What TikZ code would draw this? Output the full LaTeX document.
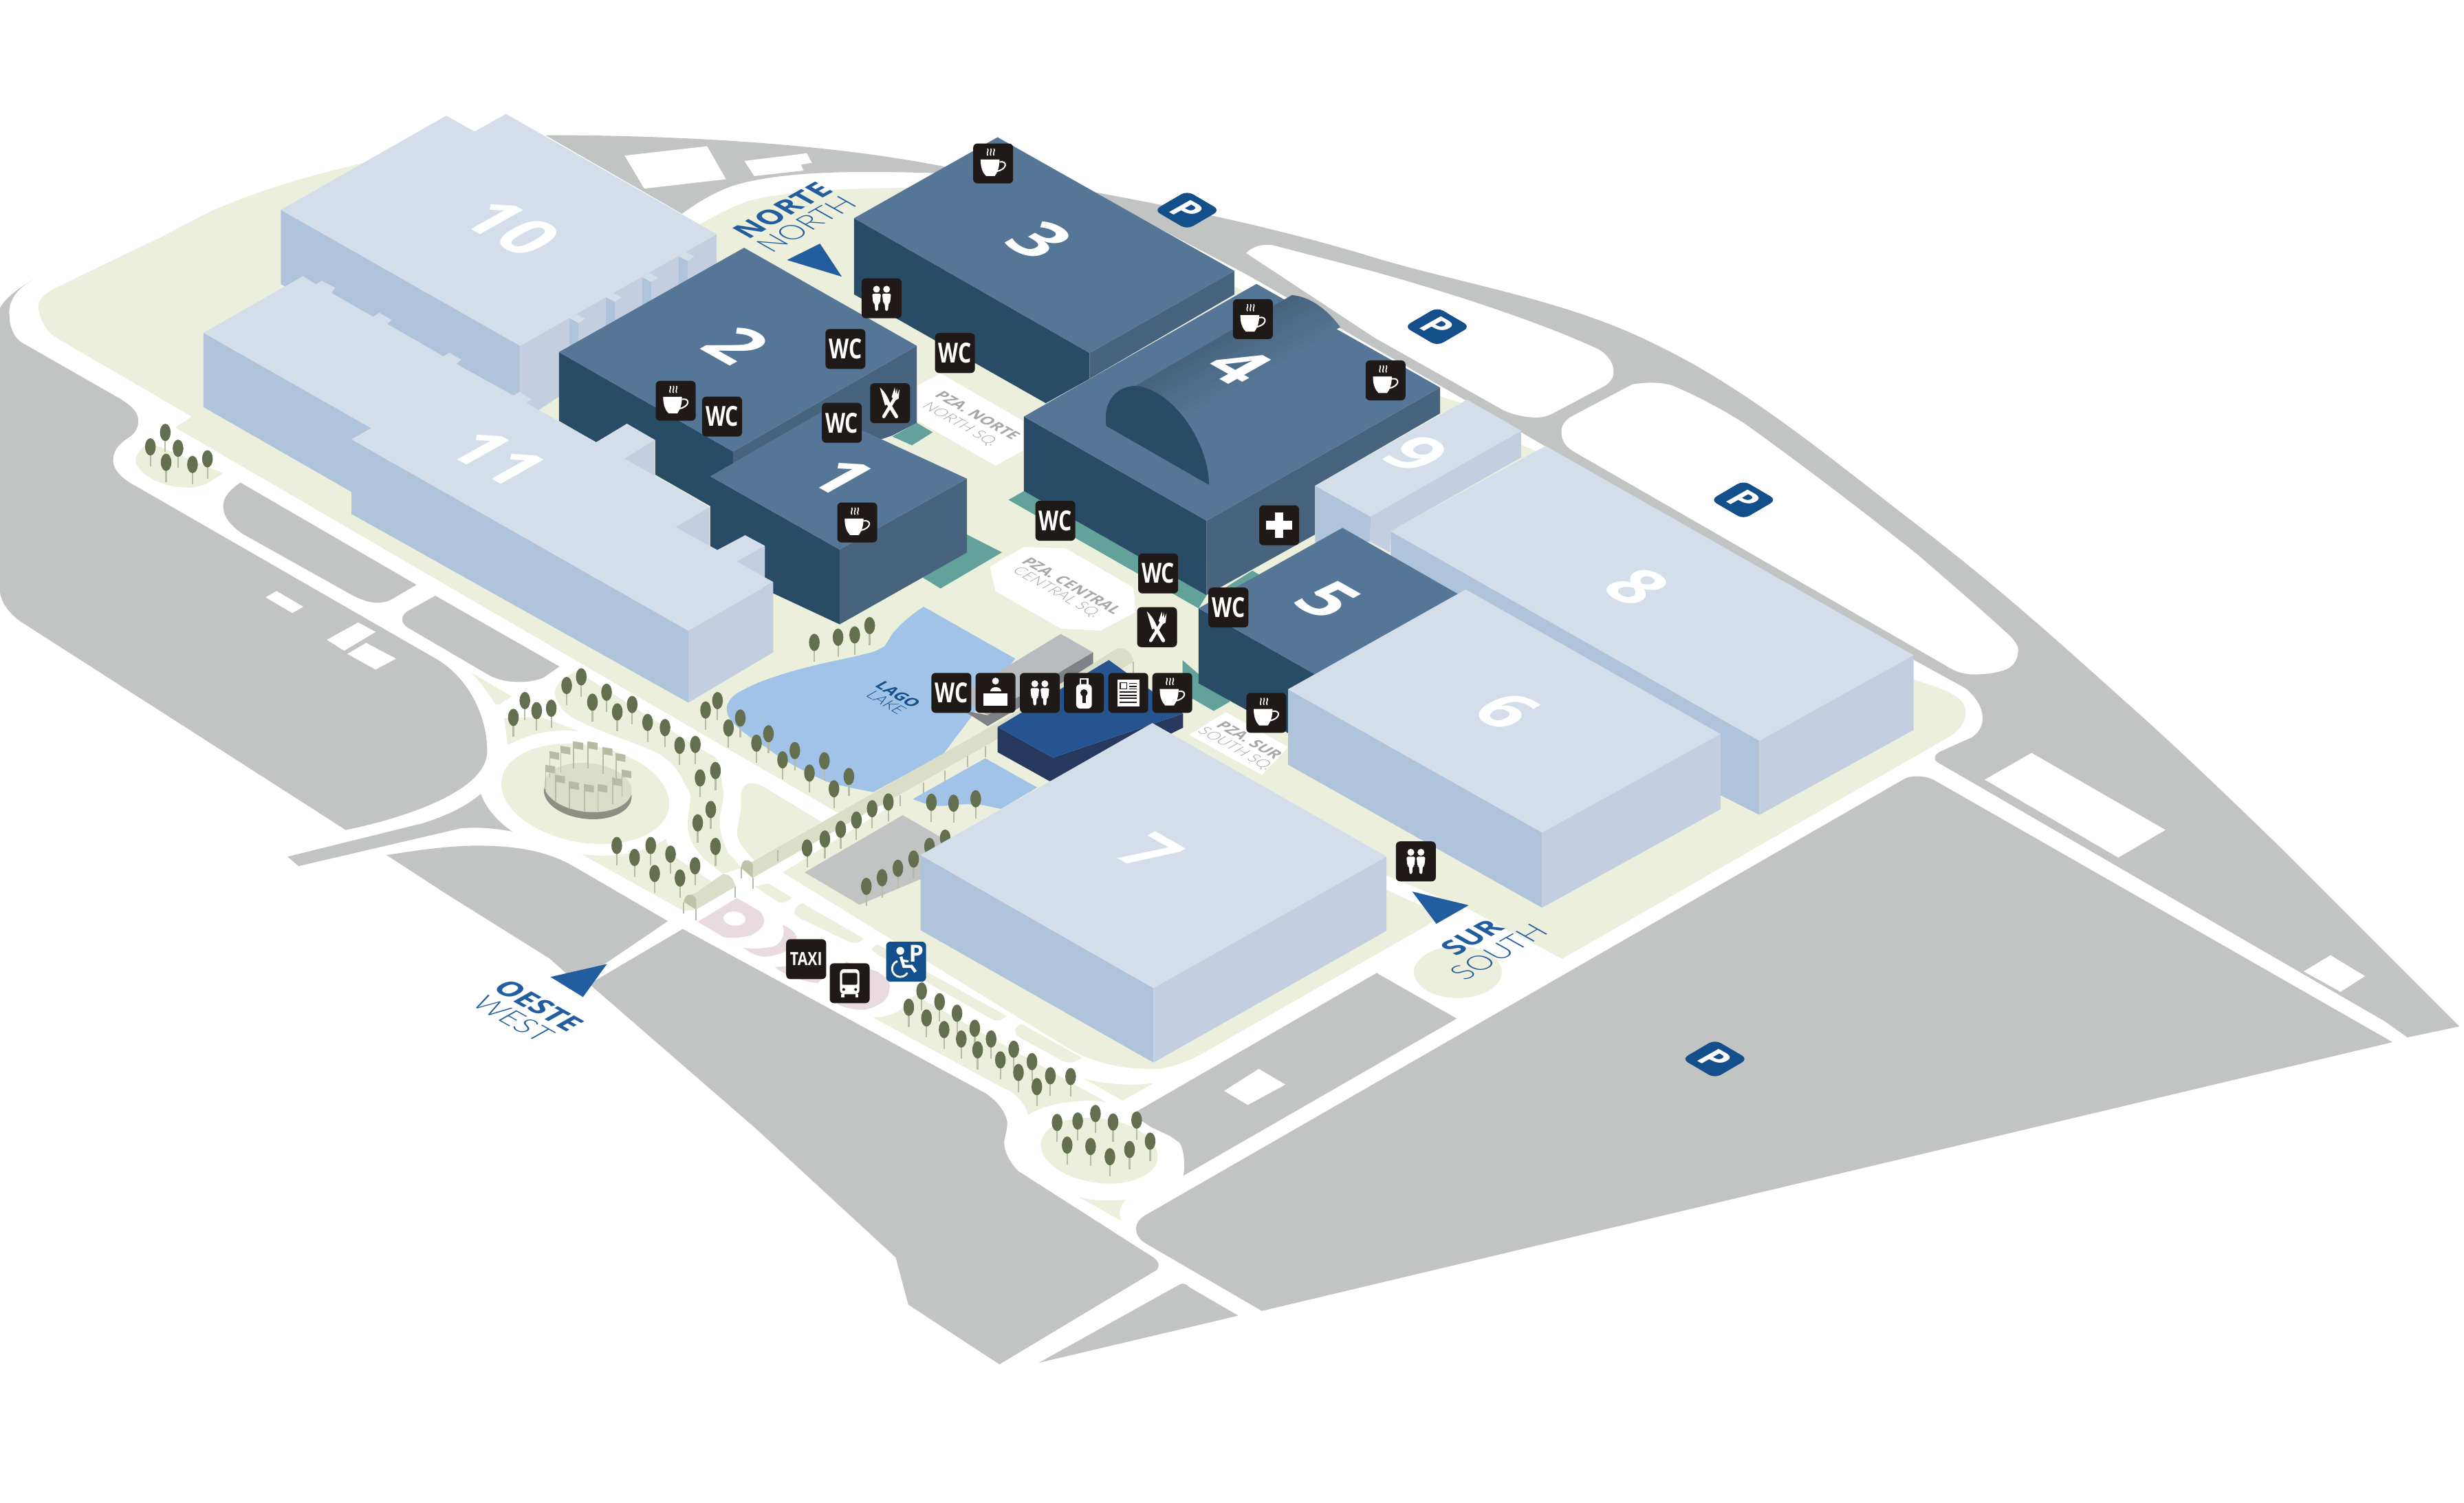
\documentclass[tikz,border=0pt]{standalone}
\usepackage{fontspec}
\setmainfont{Open Sans}
\newfontfamily\thinfont{Lato Light}
\usepackage{xcolor}
\usepackage{tikz}
\usetikzlibrary{calc}
\definecolor{roadgray}{HTML}{C2C4C3}
\definecolor{sitegreen}{HTML}{ECEFDC}
\definecolor{ltop}{HTML}{D4DEEA}
\definecolor{lleft}{HTML}{AFC4DB}
\definecolor{lright}{HTML}{C3CFE1}
\definecolor{dtop}{HTML}{557696}
\definecolor{dleft}{HTML}{284C66}
\definecolor{dright}{HTML}{47637E}
\definecolor{tealband}{HTML}{62A29A}
\definecolor{lakeblue}{HTML}{A0C3E7}
\definecolor{pinkzone}{HTML}{E8DADE}
\definecolor{arrowblue}{HTML}{225E9F}
\definecolor{parkblue}{HTML}{134F8A}
\definecolor{treecrown}{HTML}{636F4E}
\definecolor{treestem}{HTML}{B6BCA8}
\definecolor{iconblack}{HTML}{1F1A17}
\definecolor{arcadecolor}{HTML}{DADDC8}
\definecolor{arcadeend}{HTML}{BEC2A8}
\definecolor{labelgray}{HTML}{A5A7A8}
\definecolor{terminaltop}{HTML}{B8BCBE}
\definecolor{terminalface}{HTML}{7E8185}
\definecolor{audtop}{HTML}{265490}
\definecolor{audface}{HTML}{28395F}
\definecolor{flagcolor}{HTML}{B5BBA5}
\tikzset{
  isodown/.style={cm={0.87,-0.49,0.87,0.49,(0,0)}},
  isoup/.style={cm={0.87,0.49,-0.87,0.49,(0,0)}},
  bldnum/.style={isodown,white,font=\fontsize{25}{25}\selectfont\bfseries},
  boldblue/.style={arrowblue,font=\fontsize{10.5}{10.5}\selectfont\bfseries},
  thinblue/.style={arrowblue,font=\fontsize{10.5}{10.5}\selectfont\thinfont},
  sqbold/.style={isodown,labelgray,font=\fontsize{5.6}{5.6}\selectfont\bfseries},
  sqthin/.style={isodown,labelgray,font=\fontsize{5.6}{5.6}\selectfont\thinfont},
  iconbase/.pic={\fill[iconblack,rounded corners=1.5] (-12.7,-12.7) rectangle (12.7,12.7);},
  wcicon/.pic={\pic {iconbase};
    \node[white,xscale=.75,font=\fontsize{10}{10}\selectfont\bfseries] (wctext) at (0,0) {WC};},
  cupicon/.pic={\pic {iconbase};
    \fill[white] (-8,-2.5) -- (4,-2.5) .. controls (4,3) and (2.5,6) .. (1,8) -- (-4.5,8) .. controls (-6.5,6) and (-8,3) .. cycle;
    \draw[white,line width=.5pt] (4,-1) .. controls (9.5,-2) and (9,4) .. (2,5);
    \foreach \s in {-3.5,-1.5,.5}
      \draw[white,line width=.4pt] (\s,-9.5) .. controls (\s+1,-8) and (\s-1,-7) .. (\s,-5);},
  forkicon/.pic={\pic {iconbase};
    \fill[white] (-6.5,-10) .. controls (-3,-7) and (-1,-3) .. (0,0) -- (-3.2,1.5) -- cycle;
    \draw[white,line width=1.3pt,line cap=round] (-1.5,-.5) -- (4,8.5);
    \draw[white,line width=1.2pt,line cap=round] (-4,8.5) -- (3,-3);
    \fill[white] (1,-4) -- (3,-10) -- (3.5,-6) -- (4.4,-9.5) -- (4.6,-5.5) -- (6,-9) -- (5.5,-3) -- (3,-1.5) -- cycle;},
  peopleicon/.pic={\pic {iconbase};
    \foreach \s in {-3.2,3.2} {
      \fill[white] (\s,-5.8) circle (2.2);
      \fill[white,rounded corners=.6] (\s-2.8,-3) -- (\s+2.8,-3) -- (\s+2.2,3) -- (\s+1.2,3) -- (\s+.9,8) -- (\s-.9,8) -- (\s-1.2,3) -- (\s-2.2,3) -- cycle;}},
  deskicon/.pic={\pic {iconbase};
    \fill[white] (0,-7.5) circle (2.2);
    \fill[white] (-3.5,-.8) .. controls (-3.5,-4.5) and (3.5,-4.5) .. (3.5,-.8) -- cycle;
    \fill[white] (-7.5,.4) rectangle (7.5,8);},
  lockericon/.pic={\pic {iconbase};
    \fill[white,rounded corners=1.5] (-5,-5.5) rectangle (5,10);
    \draw[white,line width=.6pt] (-2.2,-5.5) -- (-2.2,-9) -- (2.2,-9) -- (2.2,-5.5);
    \fill[iconblack] (0,0) circle (2.3);
    \fill[iconblack] (-1,0) -- (1,0) -- (1,6.5) -- (-1,6.5) -- cycle;},
  newsicon/.pic={\pic {iconbase};
    \fill[white] (-7,-8.5) rectangle (7,8.5);
    \draw[iconblack,line width=.4pt] (-5,-6.5) rectangle (-1,-2.5);
    \foreach \s in {-6,-4,-2.5} \draw[iconblack,line width=.4pt] (.5,\s) -- (5.5,\s);
    \foreach \s in {-.5,1.5,3.5,6} \draw[iconblack,line width=.4pt] (-5.5,\s) -- (5.5,\s);},
  crossicon/.pic={\pic {iconbase};
    \fill[white] (-8.2,-2.8) rectangle (8.2,2.8);
    \fill[white] (-2.8,-8.2) rectangle (2.8,8.2);},
  taxiicon/.pic={\pic {iconbase};
    \node[white,xscale=.8,font=\fontsize{6.6}{6.6}\selectfont\bfseries] (taxitext) at (0,0) {TAXI};},
  busicon/.pic={\pic {iconbase};
    \fill[white,rounded corners=1.5] (-6.2,-9) rectangle (6.2,7);
    \fill[white] (-5.5,7) rectangle (-3.5,9); \fill[white] (3.5,7) rectangle (5.5,9);
    \fill[iconblack,rounded corners=.5] (-4.8,-6.5) rectangle (4.8,1);
    \fill[iconblack] (-3.8,4) circle (.9); \fill[iconblack] (3.8,4) circle (.9);},
  wheelicon/.pic={\fill[parkblue,rounded corners=1.5] (-12.7,-12.7) rectangle (12.7,12.7);
    \fill[white] (-3.7,-6.9) circle (2.5);
    \draw[white,line width=.7pt] (-5.48,-.39) arc (250:30:5.2);
    \draw[white,line width=1.1pt] (-3.3,-3.2) -- (-1.4,3) -- (3.5,3) -- (6,6.5);
    \draw[white,line width=.8pt] (-3,-.8) -- (1.5,-.2);
    \node[white,font=\fontsize{8.5}{8.5}\selectfont\bfseries] (wheelp) at (6.5,-5) {P};},
  parkmark/.pic={\fill[parkblue,rounded corners=2.5] (-21,0) -- (0,-12.3) -- (21,0) -- (0,12.3) -- cycle;
    \node[isodown,white,font=\fontsize{12.5}{12.5}\selectfont\bfseries] (parkp) at (0,0) {P};},
  treemark/.pic={\draw[treestem,line width=.55pt] (0,0) -- (0,12.5);
    \fill[treecrown] (0,0) ellipse (3.4 and 5.5);}
}
\begin{document}
\begin{tikzpicture}[x=0.02cm,y=-0.02cm]
\useasboundingbox (0,0) rectangle (1568,955.8);
%% site
\fill[sitegreen] (33.5,184) .. controls (26,189) and (24,192) .. (24.5,196.5) .. controls (26,205) and (30,211) .. (36,215) -- (122,265) -- (111.6,272) -- (533,517) -- (565,512) -- (498,555) -- (680,667) .. controls (700,678) and (716,680) .. (734,680) .. controls (745,680) and (757,675) .. (769,668) -- (906,590) .. controls (911,587) and (914,584) .. (917,582) -- (882,566) -- (882,557) -- (934,578) -- (994,610) -- (1240,469) .. controls (1252,462) and (1254,450) .. (1246,444) .. controls (1238,438) and (1228,436) .. (1217,432) -- (985,290) -- (968,283) -- (968,290) -- (935,258) -- (916,252) -- (900,248) -- (800,190) -- (700,135) -- (620,118) -- (568,119.6) .. controls (530,120) and (500,122) .. (475.7,128) .. controls (465,132) and (455,137) .. (445,143) -- (400,120) -- (230,104) .. controls (200,111) and (175,118) .. (150,128) .. controls (130,135) and (115,145) .. (98,153) -- cycle;
%% roads and car parks
\fill[roadgray] (21,178) .. controls (10,184) and (5,192) .. (6,201) .. controls (6,208) and (9,215) .. (14,218) -- (77,254) .. controls (85,259) and (88,263) .. (88,268) .. controls (88,274) and (84,277) .. (81,279) .. controls (75,283) and (72,287) .. (72,293) .. controls (72,300) and (80,306) .. (86,309) -- (279,420) .. controls (298,432) and (310,455) .. (310,478) .. controls (310,505) and (250,522) .. (220,528) -- (14,396) .. controls (6,391) and (0,382) .. (0,376) -- (0,196) .. controls (3,190) and (12,183) .. cycle;
\fill[roadgray] (153,307) -- (265,372) -- (248,382) .. controls (240,385) and (232,383) .. (223,378) -- (155,340) .. controls (146,334) and (142,328) .. (142,322) .. controls (142,316) and (147,311) .. cycle;
\fill[roadgray] (277,379) -- (356,424) -- (346,431) .. controls (337,435) and (322,435) .. (312,430) -- (259,399) .. controls (255,396) and (255,392) .. (259,389) -- cycle;
\fill[roadgray] (306,505) .. controls (309,514) and (317,523) .. (326,529) .. controls (315,527) and (305,526) .. (293,527) -- (190,551) -- (183,545) -- (268,524) .. controls (285,519) and (298,512) .. cycle;
\fill[roadgray] (246,544) .. controls (265,541) and (285,538) .. (304,538) .. controls (330,538) and (348,542) .. (363,550) -- (425,586) -- (372,622) -- (360,619) -- (350,610) -- (284.5,569) -- cycle;
\fill[roadgray] (434.5,591) -- (628,696) .. controls (636,702) and (640,708) .. (641,714) .. controls (641,720) and (639,724) .. (639,727) .. controls (639,733) and (643,740) .. (648,745) -- (734,800) .. controls (738,803) and (738,806) .. (736,808) -- (636,868) -- (578,830) -- (570,800) -- (481,718) -- (375,626) -- cycle;
\fill[roadgray] (751,817) .. controls (753,816) and (755,817) .. (757,819) -- (788,837) -- (661,867) -- cycle;
\fill[roadgray] (876,619) -- (927,648) -- (753,748) .. controls (755,738) and (752,726) .. (749,726) .. controls (745,722) and (738,720) .. (732.5,717) -- (720,709) -- cycle;
\fill[roadgray] (1211,496) .. controls (1215,493) and (1226,493) .. (1232,497) -- (1522.5,663) -- (803,834) -- (729,791) .. controls (722,787) and (720,778) .. (729,773) -- cycle;
\fill[roadgray] (347,86) .. controls (420,86) and (520,90) .. (601,106) .. controls (700,122) and (790,138) .. (875,164) .. controls (932,181) and (997,191) .. (1052,218.4) .. controls (1112,247) and (1164,291) .. (1220,334) .. controls (1276,377) and (1314,412) .. (1361,454) .. controls (1391,481) and (1420,509) .. (1450,538) -- (1565,653) -- (1532,660) -- (1518,650) -- (1233,485) .. controls (1230,483) and (1231,480) .. (1235,478) -- (1255,469) .. controls (1264,463) and (1265,450) .. (1251,438) -- (1217.7,419.7) -- (968,275) -- (794,175) -- (741,147) -- (699,124) .. controls (660,116) and (625,110) .. (593,110) .. controls (550,109) and (500,108) .. (467,118) .. controls (455,122) and (445,128) .. (434,136) -- cycle;
%% parking pads, white on the gray
\fill[white] (793,161) .. controls (797,157) and (803,155) .. (810,156) -- (875,173) .. controls (925,187) and (980,205) .. (1016.7,222) .. controls (1024,226) and (1027,232) .. (1026.8,236.5) .. controls (1027,240) and (1025,243) .. (1021,245.6) -- (990,262) .. controls (985,265) and (980,266) .. (975,265.5) .. controls (968,265) and (960,263) .. (955,260) -- (875,215) -- cycle;
\fill[white] (993.7,276) .. controls (993,271) and (996,268) .. (999,265.5) -- (1038.8,244.5) .. controls (1048,243) and (1058,243) .. (1065,245.6) .. controls (1080,252) and (1095,260) .. (1109.5,269) .. controls (1150,298) and (1185,325) .. (1220,352.6) .. controls (1240,370) and (1260,387) .. (1279.5,405) .. controls (1284,410) and (1285,413) .. (1284,416) .. controls (1283,423) and (1278,426) .. (1273,427) .. controls (1266,429) and (1260,429) .. (1255,429) .. controls (1248,429) and (1242,426) .. (1237.5,423) -- (1001,287) .. controls (996,284) and (994,280) .. cycle;
\fill[white] (1263,496) -- (1292.8,479) -- (1378,528) -- (1348,545.6) -- cycle;
\fill[white] (1466,618) -- (1483,607.7) -- (1505,621) -- (1489.4,631) -- cycle;
\fill[white] (397.5,99) -- (450,93) -- (462,114) -- (410,120) -- cycle;
\fill[white] (473.7,102.4) -- (513.4,97.5) -- (516.7,103.6) -- (509.7,104.7) -- (511.4,108.5) -- (480,112) -- cycle;
\fill[white] (169,380) -- (176,376) -- (193,386) -- (186,390) -- cycle;
\fill[white] (208,407) -- (228,396) -- (239,402) -- (219,414) -- cycle;
\fill[white] (221,416) -- (233,409) -- (252,419) -- (239,426) -- cycle;
\fill[white] (801,680) -- (818,690) -- (794,703) -- (779,694) -- cycle;
%% green islands
\fill[sitegreen] (86,292.7) .. controls (87,288) and (91,284) .. (95,281.5) -- (142,301) -- (131,308) .. controls (125,310) and (121,310.5) .. (117,310) .. controls (105,310) and (88,303) .. cycle;
\fill[sitegreen] (300,428) -- (325.6,443) -- (318,448) .. controls (316,449) and (315,448) .. (314,446) .. controls (310,440) and (305,433) .. cycle;
\fill[sitegreen] (321,457) -- (323,474) .. controls (340,465) and (355,464) .. (368,465) -- (351.5,458.7) -- (343,456) -- cycle;
\fill[sitegreen,rotate around={-10:(372.4,505)}] (372.4,505) ellipse (54 and 31);
\fill[sitegreen] (367,427) .. controls (358,431) and (353,436) .. (353,441) .. controls (354,447) and (358,452) .. (362,455) .. controls (380,466) and (405,472) .. (420,480) .. controls (428,485) and (433,492) .. (435,497.5) .. controls (438,502) and (439.5,505) .. (439.5,507) .. controls (439,515) and (437,522) .. (437.7,527) .. controls (439,536) and (443,541) .. (448,546.3) -- (460,556) -- (472,552) -- (463,542) .. controls (459,533) and (458,528) .. (458,521) .. controls (459,513) and (461,508) .. (460.3,503.3) .. controls (459,495) and (458,487) .. (455.4,481.8) -- (445,476) -- cycle;
\fill[sitegreen] (370,543.4) .. controls (390,546) and (410,543) .. (424,533.6) .. controls (425,538) and (426,541) .. (427.7,544) -- (453,561) -- (468,564) -- (443,578.6) -- (435,579.5) -- cycle;
\fill[sitegreen] (475,499) .. controls (478,497.5) and (482,498.5) .. (485,500) -- (523,523) -- (480,547.3) .. controls (475,542) and (470,537) .. (469,530.7) .. controls (469,524) and (472,517) .. (471.6,511) .. controls (471,505) and (472,501) .. cycle;
\fill[sitegreen] (480.4,564) -- (489,562) -- (504,571) .. controls (501,574) and (498,575) .. (495.5,574) -- cycle;
\fill[sitegreen] (510.6,574.6) -- (549.5,597) .. controls (547,600) and (544,600.5) .. (541,599.5) -- (509.3,584.4) .. controls (506,582) and (505,581) .. (505.6,579.5) .. controls (506,577) and (508,576) .. cycle;
\fill[sitegreen] (558.6,601) -- (640.7,646.4) .. controls (637,649) and (635,650) .. (632,648.8) -- (558,607) .. controls (553,604) and (555,602) .. cycle;
\fill[sitegreen] (649.8,651.3) -- (688.5,672.9) .. controls (684,676) and (680,676.5) .. (676.8,675.3) -- (649,660) .. controls (644,657) and (646,653) .. cycle;
\fill[sitegreen] (555.6,647.4) .. controls (565,647) and (575,644) .. (582,633) -- (704,701.2) .. controls (697,700) and (690,700) .. (682.7,700.8) .. controls (672,702) and (663,704) .. (654.3,709.2) .. controls (652,702) and (648,698) .. (643.6,694.5) -- (637.7,691.8) -- cycle;
\fill[sitegreen] (689.5,686.2) .. controls (705,690) and (720,691) .. (734.4,689) -- (714.3,700.1) -- cycle;
\fill[sitegreen,rotate around={-8:(699.5,732)}] (699.5,732) ellipse (37.5 and 20.5);
\fill[sitegreen] (686.6,761.5) .. controls (695,764) and (705,764) .. (716.9,763.2) .. controls (713,766) and (711,772) .. (714,777) -- cycle;
\fill[sitegreen] (927.7,618.5) ellipse (28 and 16.5);
%% bus stops
\fill[pinkzone] (444,586.4) -- (469,571.3) -- (483,579.5) .. controls (488,584) and (488,590) .. (478,595) .. controls (470,597) and (464,597) .. (460,596) -- cycle;
\fill[white,rotate around={-5:(467.4,584.4)}] (467.4,584.4) ellipse (7 and 4.5);
\fill[pinkzone] (498,588.3) .. controls (504,591) and (507,594) .. (507,597) .. controls (507,601) and (504,604) .. (500.5,605) .. controls (494,608) and (488,609) .. (485.5,608.5) .. controls (480,608) and (476,605) .. (473,603) .. controls (482,604) and (488,603) .. (493,602) .. controls (498,599) and (500,594) .. cycle;
\fill[pinkzone] (493,615) -- (520.6,614.7) -- (525,620) -- (520.6,625.5) -- (514,624.5) .. controls (505,622) and (497,619) .. cycle;
\fill[pinkzone] (538,611.8) -- (558,618) .. controls (565,622) and (567,626) .. (566,628.4) .. controls (566,633) and (564,636) .. (561,638) .. controls (556,641) and (552,642.5) .. (548,642.5) .. controls (542,642) and (537,641) .. (533,639) -- cycle;
%% teal bands
\fill[tealband] (567.8,277.7) -- (583.4,269) -- (593.5,275) -- (580.4,283.3) -- cycle;
\fill[tealband] (615.2,340) -- (637.6,351.4) -- (598.5,374.4) -- (587.3,367.5) -- cycle;
\fill[tealband] (641.8,318) -- (651.6,312.4) -- (767.9,378.6) -- (762.7,387) -- cycle;
\fill[tealband] (752.5,420) -- (782.8,446.3) -- (772.3,452.3) -- (752.5,440.7) -- cycle;
\fill[tealband] (770,380) -- (797,363) -- (802,366) -- (775,383) -- cycle;
%% squares
\fill[white] (598.5,237.5) -- (651,267.7) -- (651,286.7) -- (633.4,296.3) -- (584,267.7) -- (584,245) -- cycle;
\fill[white] (651.5,348) -- (678,348.8) -- (721.3,373.8) -- (722.7,389.4) -- (700.4,401.2) -- (675.2,399.9) -- (633.4,376) -- (630,360.4) -- cycle;
\fill[white] (780,453) -- (819.7,475.3) -- (803,493) -- (756.7,467.5) -- cycle;
%% lake
\fill[lakeblue] (587.8,386) -- (646,419) -- (600,480) -- (555.7,503.9) .. controls (545,502) and (535,500) .. (525.5,497) .. controls (510,490) and (497,483) .. (487.8,475.6) .. controls (478,470) and (470,464) .. (465,458) .. controls (461,453) and (461,446) .. (470,440.4) .. controls (480,435) and (488,432) .. (492.9,430.6) .. controls (515,423) and (535,420) .. (550.6,416) .. controls (556,415) and (560,413) .. (563,411) .. controls (565,408) and (566,406) .. (568,403) .. controls (574,396) and (580,391) .. cycle;
\fill[lakeblue] (627,482.4) -- (660,501) -- (637,514.6) -- (626,512.3) .. controls (615,511) and (608,512) .. (600.9,512.7) .. controls (595,513) and (591,512) .. (588,511) -- (580.8,508.4) -- cycle;
\fill[roadgray] (574.5,518.6) -- (620,545) -- (547,575.6) -- (512,555) -- cycle;
%% terminal and arcades
\fill[terminaltop] (675,403.3) -- (695.6,415) -- (628.5,455) -- (610,443) -- cycle;
\fill[terminalface] (695.6,415) -- (695.6,422.8) -- (628.5,461.9) -- (613,452) -- (628.5,455) -- cycle;
\fill[arcadecolor] (471.6,552) .. controls (474,549) and (476,549) .. (479,548) -- (648.6,452) -- (710,413) .. controls (715,411) and (720,414) .. (721.4,421) -- (479,558.6) -- cycle;
\fill[arcadeend] (471.6,552) .. controls (472,546) and (477,546) .. (479,550) -- (479,558.6) -- cycle;
\fill[arcadecolor] (435,573.7) .. controls (437,570) and (440,569) .. (443,568) -- (460,556) .. controls (464,556) and (467,559) .. (468,564) -- (443,578.6) -- cycle;
\fill[arcadeend] (435,573.7) .. controls (436,568) and (441,568) .. (443,572) -- (443,578.6) -- cycle;
\foreach \x/\y in {572.7/506,587.6/498,601.2/490,615.8/481,627.2/475,721.4/421,471.6/552,479/558.6,435/574,443/578.6,468/564,495/541}
  \draw[treestem,line width=.5pt] (\x,\y) -- (\x,\y+7);
\fill[white] (479,558.6) -- (498,555) -- (565,514) -- (555,515) -- cycle;
%% auditorium
\fill[audface] (634.8,462.5) -- (634.8,478.5) -- (668,497) -- (745,466.8) -- (752.9,462.9) -- (752.9,454) -- (670,482) -- cycle;
\fill[audtop] (705.6,419.9) -- (752.9,454) -- (670,482) -- (634.8,462.5) -- cycle;
%% monument
\fill[black!40!sitegreen,rotate around={-6:(374,505)}] (374,505) ellipse (28 and 16);
\fill[arcadecolor,rotate around={-6:(374,502)}] (374,501) ellipse (28 and 15.5);
\foreach \x/\y in {352.8/480.9,359.9/477.5,368.1/474.6,377.2/474.6,386.7/478.3,395/482.2,398.8/492.6,350.3/489.6,356.6/495.9,365.4/500,374.9/501.8,383.5/501.8,392.8/497.7} {
  \draw[treestem,line width=.4pt] (\x-3,\y-3) -- (\x-3,\y+14);
  \fill[flagcolor] (\x-3,\y-3) -- (\x+3,\y-2) -- (\x+3,\y+2.5) -- (\x-3,\y+1.5) -- cycle;}
%% trees
\foreach \x/\y in {326.7/456.4,334/445.7,341.5/452.1,350.8/450.6,360.6/436.1,369.9/430.6,377/446.7,386/440.4,392.8/452.9,402.3/448.2,412.1/459.6,423.2/462.9,432.5/474.2,442.5/473.6,445.5/494.9,455.3/490.2,452.3/515,444/523.5,455.3/538.5,392.5/537.9,403.8/545.5,414.1/537.9,426.7/543.4,416.6/555.7,432.7/558.6,442.3/550.8,449/451.7,456.6/445.7,463.6/463.1,471.1/456.8,481.4/472.8,489/466.8,498/483.4,505.8/477.5,515.1/491.8,524.6/484,530.7/501.8,540.2/494,513.6/539.5,524.9/533.8,535/527.6,545/521.7,555/514.5,565.3/510.2,592.7/510.4,606.8/511,620.9/508.2,551.3/563.9,561.3/558.4,571.4/552.4,581.4/546.5,591.5/538.5,601.5/533.2,518.2/408.7,533.3/405.4,543.9/403.9,553.4/398,105.2/275.1,95.7/284.3,113.3/285.2,105.7/294.1,122.5/295.5,132/291.9,586.5/630.5,578.3/640.8,597.9/637.3,589.6/647.6,609/644.6,600.8/655,620.3/654.2,611.7/661,630.7/661,622.1/667.9,645.1/667.5,636.6/674.3,656.7/675.4,648.1/682.3,668.4/684.4,659.8/691.3,681.3/684.9,672.7/714.1,685.8/713.2,697.1/708.4,708.3/713.8,723.3/712.6,731.9/726,718.8/731.3,706.3/735.9,694/729.4,679.1/728.5}
  \pic at (\x,\y) {treemark};
%% hall 10
\fill[lleft] (178.7,133.5) -- (331,220) -- (331,262) -- (178.7,180.8) -- cycle;
\fill[lright] (331,220) -- (456,149) -- (456,185) -- (343,260.8) -- (331,262) -- cycle;
\fill[ltop] (284,73.6) -- (302,83.7) -- (322,72.5) -- (456,149) -- (331,220) -- (178.7,133.5) -- cycle;
\foreach \x/\y in {362.4/202.5,385.6/189,408.7/176.4,431.9/163} {
  \fill[lleft] (\x,\y) -- (\x+5.7,\y+3) -- (\x+5.7,\y+35) -- (\x,\y+35) -- cycle;
  \fill[ltop] (\x,\y) -- (\x+4.3,\y-2.7) -- (\x+10,\y+.2) -- (\x+5.7,\y+3) -- cycle;}
%% hall 3
\fill[dleft] (543.5,138.8) -- (693.4,224.6) -- (693.4,241) -- (665.5,256.5) -- (543.5,187.3) -- cycle;
\fill[dright] (785.5,172.3) -- (785.5,187.3) -- (693.4,241) -- (693.4,224.6) -- cycle;
\fill[dtop] (634.8,87.3) -- (785.5,172.3) -- (693.4,224.6) -- (543.5,138.8) -- cycle;
\node[bldnum] (numthree) at (661.3,152.7) {3};
%% hall 4
\fill[dleft] (651.6,265) -- (767.9,331.3) -- (767.7,378.6) -- (651.6,312.4) -- cycle;
\fill[dright] (916.4,246.5) -- (916.4,263) -- (836.9,309) -- (836.9,340) -- (767.7,378.6) -- (767.9,331.3) -- cycle;
\fill[dtop] (799.6,180.6) -- (916.4,246.5) -- (767.9,331.3) -- (651.6,265) -- cycle;
\begin{scope}
\clip (722.5,245.5) -- (820.8,187.7) .. controls (835,188) and (848,200) .. (856,212.5) -- (856,240) -- (770,300) -- cycle;
\foreach \i in {0,...,9} {
  \pgfmathsetmacro\c{100-10*\i}
  \fill[dright!\c!dtop] ($(722.5,245.5)+\i*(3.35,1.85)$) -- ++(125,-72.5) -- ++(3.6,2) -- ++(-125,72.5) -- cycle;}
\end{scope}
\fill[dleft] (704,271) .. controls (702,258) and (708,246) .. (722.5,245.5) .. controls (745,247) and (769,280) .. (769.4,308.5) -- cycle;
\node[bldnum] (numfour) at (788.4,233) {4};
%% halls 2 and 1
\fill[dleft] (355.7,224) -- (466.5,287.3) -- (466.5,300) -- (452,303) -- (534.3,349.6) -- (534.3,397.2) -- (486.8,375) -- (452,348) -- (452,322) -- (417,302) -- (417,280) -- (399,269.5) -- (379.4,281.5) -- (355.7,267.7) -- cycle;
\fill[dright] (583.4,220) -- (583.4,269) -- (568,277) -- (500,300) -- (466.5,302) -- (466.5,287.3) -- cycle;
\fill[dtop] (473.5,157.6) -- (583.4,220) -- (466.5,287.3) -- (355.7,224) -- cycle;
\node[bldnum] (numtwo) at (468.7,219.7) {2};
\fill[dright] (615.3,304.5) -- (615.3,351.5) -- (534.3,397.2) -- (534.3,349.6) -- cycle;
\fill[dtop] (523,262) -- (615.3,304.5) -- (534.3,349.6) -- (452,303) -- cycle;
\node[bldnum] (numone) at (535.7,303.4) {1};
%% hall 11
\fill[lleft] (129.5,211.7) -- (236.3,272.4) -- (223.7,279.5) -- (438,401.2) -- (438,447) -- (223.7,327) -- (223.7,313) -- (129.5,259) -- cycle;
\fill[lright] (438,401.2) -- (492,370.2) -- (492,415) -- (438,447) -- cycle;
\fill[ltop] (129.5,211.7) -- (192.8,175.7) -- (201,180.8) -- (204.9,178.6) -- (213,183) -- (211,186.4) -- (237.5,201.6) -- (241.3,198.9) -- (249.3,203.6) -- (246.3,206) -- (282,226.6) -- (286,224.4) -- (293.5,228.8) -- (290.3,231.5) -- (326.7,251.6) -- (330.5,249.4) -- (338,254) -- (334.7,256.3) -- (379.4,281.3) -- (398.8,269.7) -- (416.6,279.8) -- (416.6,302.5) -- (451.5,322.6) -- (451.5,347.2) -- (456.5,349.9) -- (474.2,340.5) -- (486.7,347.2) -- (486.7,367.3) -- (492,370.2) -- (438,401.2) -- (223.7,279.5) -- (236.3,272.4) -- cycle;
\fill[lright] (397.5,291.8) -- (416.6,279.8) -- (416.6,302.5) -- cycle;
\fill[lright] (430,335.4) -- (451.5,322.6) -- (451.5,347.2) -- cycle;
\fill[lright] (469,357.2) -- (486.7,347.2) -- (486.7,367.3) -- cycle;
\node[bldnum] (numten) at (325.4,145) {10};
\node[bldnum] (numeleven) at (316.6,291.4) {11};
%% hall 9
\fill[lleft] (836.9,309) -- (872.1,328.6) -- (872,344.7) -- (836.9,345) -- cycle;
\fill[lright] (968,274) -- (968,291) -- (885,338) -- (884.5,351.4) -- (872,344.7) -- (872.1,328.6) -- cycle;
\fill[ltop] (933.6,254.3) -- (968,274) -- (872.1,328.6) -- (836.9,309) -- cycle;
\node[bldnum] (numnine) at (901.2,288.9) {9};
%% hall 8
\fill[lleft] (885,338) -- (1119.6,471.2) -- (1119.6,518.4) -- (885,400) -- cycle;
\fill[lright] (1217.7,416.8) -- (1217.7,464.4) -- (1119.6,518.4) -- (1119.6,471.2) -- cycle;
\fill[ltop] (983.5,283.7) -- (1217.7,416.8) -- (1119.6,471.2) -- (885,338) -- cycle;
\node[bldnum] (numeight) at (1041.9,373.3) {8};
%% hall 5
\fill[dleft] (762.7,387) -- (836.9,429) -- (819.7,438.5) -- (819.7,466.4) -- (762.7,434.7) -- cycle;
\fill[dtop] (854.3,335.8) -- (928,378) -- (836.9,429) -- (762.7,387) -- cycle;
\node[bldnum] (numfive) at (845.3,381.6) {5};
%% hall 6
\fill[lleft] (819.7,438.5) -- (981.3,529.6) -- (981.3,577.5) -- (819.7,486.5) -- cycle;
\fill[lright] (1094.9,467) -- (1094.9,514.8) -- (981.3,577.5) -- (981.3,529.6) -- cycle;
\fill[ltop] (932.7,375) -- (1094.9,467) -- (981.3,529.6) -- (819.7,438.5) -- cycle;
\node[bldnum] (numsix) at (959.2,451.9) {6};
%% hall 7
\fill[lleft] (585.8,544) -- (734,628.6) -- (734,676) -- (585.8,591.8) -- cycle;
\fill[lright] (882.3,544.9) -- (882.3,592.2) -- (734,676) -- (734,628.6) -- cycle;
\fill[ltop] (733.3,460) -- (882.3,544.9) -- (734,628.6) -- (585.8,544) -- cycle;
\node[bldnum] (numseven) at (731.5,542) {7};
%% entrances
\fill[arrowblue] (521.8,155) -- (535.7,176) -- (500.8,165.4) -- cycle;
\fill[arrowblue] (386.2,613.3) -- (371,634.3) -- (350.3,621.5) -- cycle;
\fill[arrowblue] (898.7,567.2) -- (934.6,575.9) -- (914,587.7) -- cycle;
\node[isoup,boldblue] (lblnorte) at (498,133.7) {NORTE};
\node[isoup,thinblue] (lblnorth) at (513.4,142.6) {NORTH};
\node[isodown,boldblue] (lbloeste) at (342.8,639.7) {OESTE};
\node[isodown,thinblue] (lblwest) at (326.7,648.3) {WEST};
\node[isoup,boldblue] (lblsur) at (936.8,596.2) {SUR};
\node[isoup,thinblue] (lblsouth) at (953.8,605.6) {SOUTH};
\node[isodown,parkblue,font=\fontsize{5.8}{5.8}\selectfont\bfseries] (lbllago) at (571.5,441.8) {LAGO};
\node[isodown,parkblue,font=\fontsize{5.8}{5.8}\selectfont\thinfont] (lbllake) at (564,447) {LAKE};
\node[sqbold] (lblpzanorte) at (622.2,264.3) {PZA. NORTE};
\node[sqthin] (lblnorthsq) at (611,270) {NORTH SQ.};
\node[sqbold] (lblpzacentral) at (682.2,372.6) {PZA. CENTRAL};
\node[sqthin] (lblcentralsq) at (672.5,377) {CENTRAL SQ.};
\node[sqbold] (lblpzasur) at (795.1,470.9) {PZA. SUR};
\node[sqthin] (lblsouthsq) at (786.2,476.5) {SOUTH SQ.};
%% icons
\foreach \x/\y in {755.4/133.7,914.6/207.8,1109.5/318,1091.3/673.7}
  \pic at (\x,\y) {parkmark};
\foreach \x/\y in {538/222,607.7/224.6,459.5/265,535.7/269,671.6/331.3,737/364.8,781.7/386.5,605.4/440.8}
  \pic at (\x,\y) {wcicon};
\foreach \x/\y in {632/104,430/255,545.5/332.4,797.3/203,881.7/242,746/440.8,805.8/453.5}
  \pic at (\x,\y) {cupicon};
\foreach \x/\y in {566.4/256.5,736.3/399}
  \pic at (\x,\y) {forkicon};
\foreach \x/\y in {561/189.8,661.7/440.8,901/548}
  \pic at (\x,\y) {peopleicon};
\pic at (633.5,440.8) {deskicon};
\pic at (689.8,440.8) {lockericon};
\pic at (718,440.8) {newsicon};
\pic at (814,334.2) {crossicon};
\pic at (513,610.2) {taxiicon};
\pic at (540.7,625.5) {busicon};
\pic at (576.6,611.8) {wheelicon};
\end{tikzpicture}
\end{document}
